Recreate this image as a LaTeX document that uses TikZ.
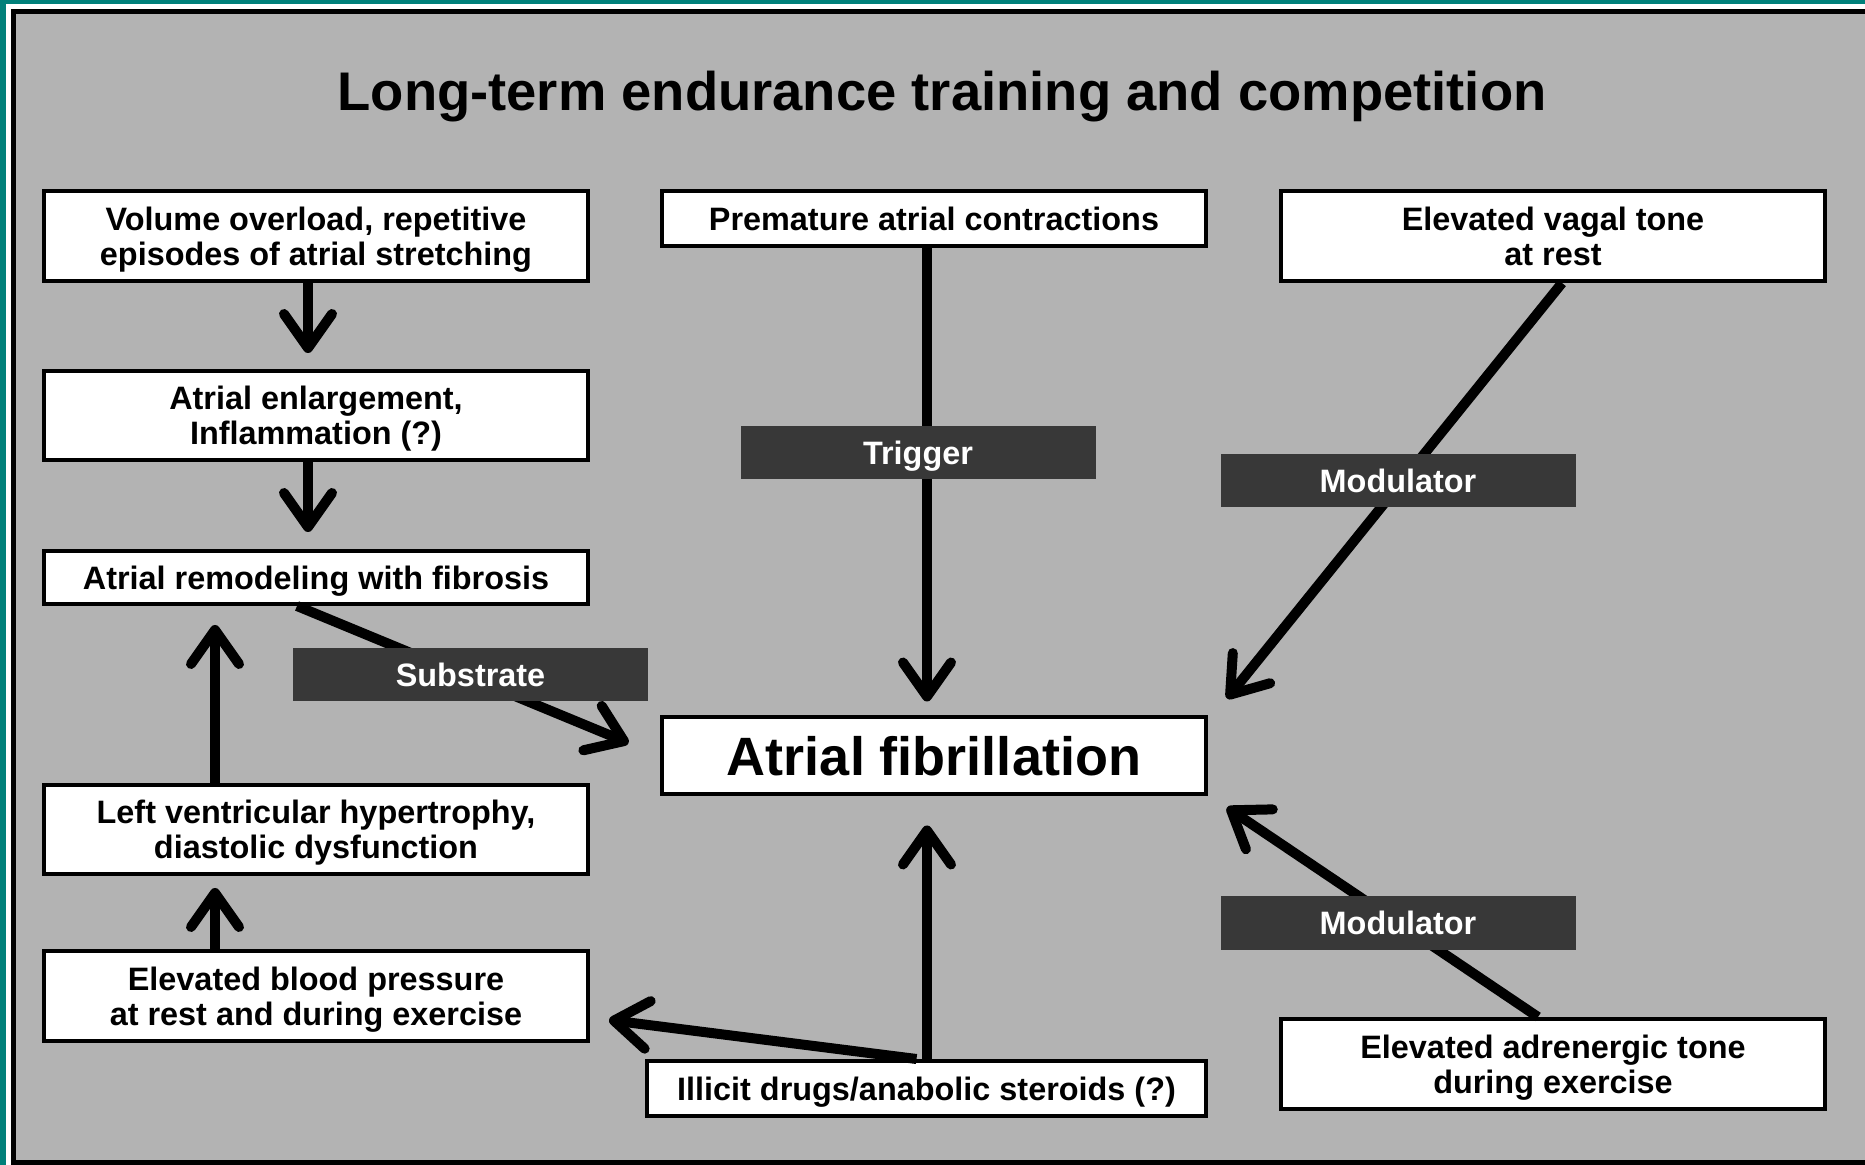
\documentclass[tikz,border=0pt]{standalone}
\usepackage{fontspec}
\setmainfont{Liberation Sans}
\usetikzlibrary{arrows.meta}
\definecolor{teal0}{RGB}{0,128,122}
\definecolor{bggray}{RGB}{179,179,179}
\definecolor{lbl}{RGB}{56,56,56}
\begin{document}
\begin{tikzpicture}[x=0.5pt,y=-0.5pt,
  box/.style={draw=black, line width=2pt, fill=white, align=center, inner sep=0pt,
    minimum width=272pt, text depth=0pt, font=\fontsize{16.2}{17.3}\selectfont\bfseries},
  lab/.style={fill=lbl, text=white, inner sep=0pt, minimum width=177.5pt,
    minimum height=26.5pt, text depth=0pt, font=\fontsize{16.2}{17.3}\selectfont\bfseries},
  arr/.style={line width=5pt, -{Straight Barb[length=17pt,width=24pt,round]}},
  line/.style={line width=5pt}]
\useasboundingbox (0,0) rectangle (1865,1165);
% frame
\fill[teal0] (0,0) rectangle (1865,1165);
\fill[white] (6,4) rectangle (1865,1165);
\fill[bggray] (11,10) rectangle (1865,1165);
\draw[line width=2.5pt] (1865,12) -- (13.5,12) -- (13.5,1162.5) -- (1865,1162.5);
% title
\node[anchor=base, font=\fontsize{27.2}{30}\selectfont\bfseries] (title) at (942,111)
  {Long-term endurance training and competition};
% boxes
\node[box, minimum height=45pt]   (vol)   at (316,236)   {Volume overload, repetitive\\episodes of atrial stretching};
\node[box, minimum height=27.5pt] (pac)   at (934,218.5) {Premature atrial contractions};
\node[box, minimum height=45pt]   (vagal) at (1553,236)  {Elevated vagal tone\\at rest};
\node[box, minimum height=44.5pt] (enl)   at (316,415.5) {Atrial enlargement,\\Inflammation (?)};
\node[box, minimum height=26.5pt] (remod) at (316,577.5) {Atrial remodeling with fibrosis};
\node[box, minimum height=38.5pt, font=\fontsize{27}{30}\selectfont\bfseries] (af) at (934,756) {Atrial fibrillation};
\node[box, minimum height=44.5pt] (lvh)   at (316,829.5) {Left ventricular hypertrophy,\\diastolic dysfunction};
\node[box, minimum height=45pt]   (bp)    at (316,996)   {Elevated blood pressure\\at rest and during exercise};
\node[box, minimum height=45pt]   (adr)   at (1553,1064) {Elevated adrenergic tone\\during exercise};
\node[box, minimum height=27.5pt, minimum width=279.5pt] (ill) at (926.5,1088.5) {Illicit drugs/anabolic steroids (?)};
% connectors
\draw[arr, shorten >=8pt] ([xshift=-4pt]vol.south) -- ([xshift=-4pt]enl.north);
\draw[arr, shorten >=8.5pt] ([xshift=-4pt]enl.south) -- ([xshift=-4pt]remod.north);
\draw[arr, shorten >=17pt] ([xshift=-9.5pt]remod.south) -- (af.west);
\draw[arr, shorten >=9.5pt] ([xshift=-50.5pt]lvh.north) -- ([xshift=-50.5pt]remod.south);
\draw[arr, shorten >=6pt] ([xshift=-50.5pt]bp.north) -- ([xshift=-50.5pt]lvh.south);
\draw[arr, shorten >=7pt] ([xshift=-3.5pt]pac.south) -- ([xshift=-3.5pt]af.north);
\draw[arr] ([xshift=4.5pt]vagal.south) -- ([xshift=9.5pt,yshift=8.5pt]af.north east);
\draw[arr] ([xshift=-7.5pt]adr.north) -- ([xshift=9.5pt,yshift=-5.5pt]af.south east);
\draw[arr, shorten >=14.5pt] ([xshift=0.25pt]ill.north) -- ([xshift=-3.5pt]af.south);
\draw[arr] ([xshift=-5pt]ill.north) -- ([xshift=9.5pt,yshift=-12pt]bp.east);
% labels
\node[lab] (trig) at (918,453)    {Trigger};
\node[lab] (mod1) at (1398,480.5) {Modulator};
\node[lab] (subs) at (470.5,674.5) {Substrate};
\node[lab] (mod2) at (1398,923)   {Modulator};
\end{tikzpicture}
\end{document}
